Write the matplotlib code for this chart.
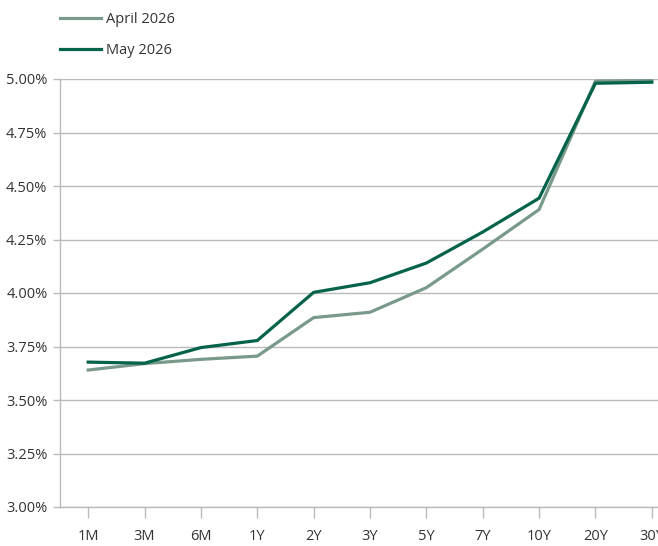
import matplotlib
matplotlib.use("Agg")
import matplotlib.pyplot as plt
from matplotlib.ticker import FuncFormatter

plt.rcParams.update({
    "font.family": ["Open Sans", "DejaVu Sans"],
    "font.size": 10.5,
    "text.color": "#333333",
    "xtick.color": "#bbbbbb",
    "ytick.color": "#bbbbbb",
    "xtick.labelcolor": "#333333",
    "ytick.labelcolor": "#333333",
})

tenors = ["1M", "3M", "6M", "1Y", "2Y", "3Y", "5Y", "7Y", "10Y", "20Y", "30Y"]
april_2026 = [3.64, 3.67, 3.69, 3.705, 3.885, 3.91, 4.025, 4.205, 4.39, 4.99, 4.993]
may_2026 = [3.677, 3.672, 3.745, 3.778, 4.003, 4.048, 4.14, 4.285, 4.443, 4.98, 4.985]

light = "#799a8a"
dark = "#05634b"
grid = "#bbbbbb"

fig = plt.figure(figsize=(6.58, 5.46), dpi=100)
ax = fig.add_axes([60 / 658, 39 / 546, 620 / 658, 428 / 546])

x = range(len(tenors))
la, = ax.plot(x, april_2026, color=light, lw=2.3, solid_joinstyle="round")
lm, = ax.plot(x, may_2026, color=dark, lw=2.3, solid_joinstyle="round")

ax.set_xlim(-0.5, 10.5)
ax.set_ylim(3.0, 5.0)
ax.set_yticks([3.0, 3.25, 3.5, 3.75, 4.0, 4.25, 4.5, 4.75, 5.0])
ax.yaxis.set_major_formatter(FuncFormatter(lambda v, p: f"{v:.2f}%"))
ax.set_xticks(list(x))
ax.set_xticklabels(tenors)
ax.grid(axis="y", color=grid, lw=1)
ax.set_axisbelow(True)
for s in ["top", "right"]:
    ax.spines[s].set_visible(False)
for s in ["left", "bottom"]:
    ax.spines[s].set_color(grid)
    ax.spines[s].set_linewidth(1)
ax.tick_params(axis="y", length=5, width=1, pad=4)
ax.tick_params(axis="x", length=8, width=1, pad=8)

fig.legend([la, lm], ["April 2026", "May 2026"], loc="upper left",
           bbox_to_anchor=(54 / 658, 1 - 6 / 546), frameon=False,
           handlelength=2.8, handletextpad=0.35, labelspacing=1.1,
           borderaxespad=0)

fig.savefig("out.png", dpi=100)
